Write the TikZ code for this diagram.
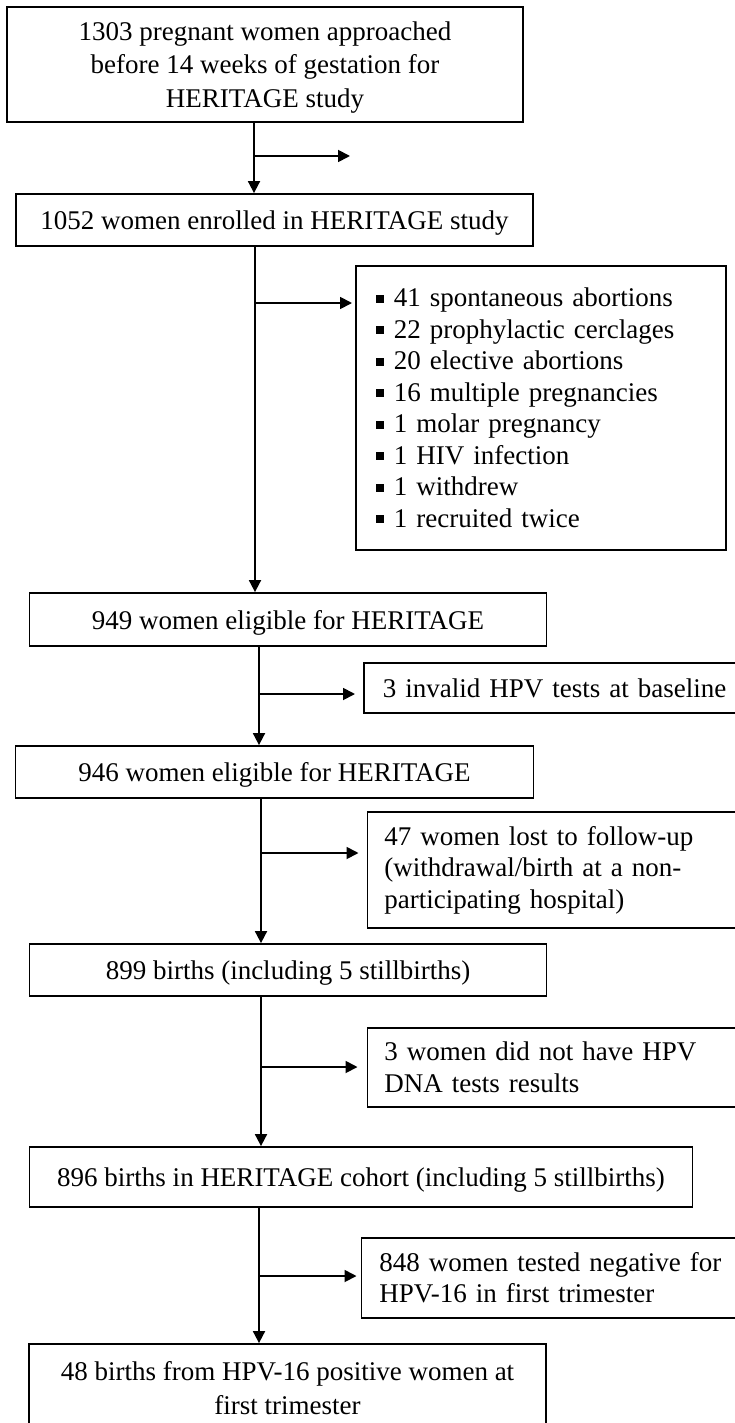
\documentclass[tikz,border=0pt]{standalone}
\usepackage{fontspec}
\setmainfont{Liberation Serif}
\usetikzlibrary{arrows.meta}
\newcommand\blt{\rule[4pt]{8pt}{8pt}\hspace{10pt}}
\tikzset{
  box/.style={draw, line width=1.8pt, inner sep=0pt, align=center, text depth=0pt, font=\fontsize{27}{33.5}\selectfont},
  sidebox/.style={draw, line width=1.8pt, inner xsep=17pt, inner ysep=0pt, align=left, font=\fontsize{27}{31.5}\selectfont},
  arr/.style={line width=1.8pt, -{Triangle[length=12pt,width=12pt]}},
  ln/.style={line width=1.8pt}
}
\begin{document}
\begin{tikzpicture}[x=1pt,y=-1pt]
\path[use as bounding box, clip] (0,0) rectangle (735,1423);
\fill[white] (0,0) rectangle (735,1423);
% main boxes
\node[box, minimum width=516pt, minimum height=115pt] (b1) at (265,64.5) {1303 pregnant women approached\\before 14 weeks of gestation for\\HERITAGE study};
\node[box, minimum width=517pt, minimum height=52pt] (b2) at (274.5,220) {1052 women enrolled in HERITAGE study};
\node[box, minimum width=517pt, minimum height=53pt] (b3) at (288,619.5) {949 women eligible for HERITAGE};
\node[box, minimum width=518pt, minimum height=52pt] (b4) at (274.5,772) {946 women eligible for HERITAGE};
\node[box, minimum width=517pt, minimum height=52pt] (b5) at (288,970) {899 births (including 5 stillbirths)};
\node[box, minimum width=663pt, minimum height=60pt] (b6) at (361,1177) {896 births in HERITAGE cohort (including 5 stillbirths)};
\node[box, minimum width=517pt, minimum height=88pt] (b7) at (287.5,1388) {48 births from HPV-16 positive women at\\first trimester};
% side boxes
\node[sidebox, anchor=north west, minimum width=370pt, minimum height=284pt, inner xsep=20pt, text width=330pt] (s1) at (355,265) {\blt 41 spontaneous abortions\\\blt 22 prophylactic cerclages\\\blt 20 elective abortions\\\blt 16 multiple pregnancies\\\blt 1 molar pregnancy\\\blt 1 HIV infection\\\blt 1 withdrew\\\blt 1 recruited twice};
\node[sidebox, anchor=north west, minimum width=400pt, minimum height=50pt, inner xsep=19pt, text width=362pt] (s2) at (363,662) {3 invalid HPV tests at baseline};
\node[sidebox, anchor=north west, minimum width=400pt, minimum height=116pt, text width=366pt] (s3) at (366.5,811) {47 women lost to follow-up\\(withdrawal/birth at a non-\\participating hospital)};
\node[sidebox, anchor=north west, minimum width=400pt, minimum height=79pt, text width=366pt] (s4) at (366.5,1027) {3 women did not have HPV\\DNA tests results};
\node[sidebox, anchor=north west, minimum width=400pt, minimum height=80pt, inner xsep=18pt, text width=364pt] (s5) at (360.5,1237) {848 women tested negative for\\HPV-16 in first trimester};
% junction coordinates
\coordinate (v1) at (254,0);
\coordinate (v2) at (255,0);
\coordinate (v3) at (259,0);
\coordinate (v4) at (261,0);
\coordinate (v5) at (261,0);
\coordinate (v6) at (259,0);
\coordinate (j1) at (254,156);
\coordinate (e1) at (350,156);
\coordinate (j2) at (255,303);
\coordinate (j3) at (259,694);
\coordinate (j4) at (261,853);
\coordinate (j5) at (261,1067);
\coordinate (j6) at (259,1276);
% connectors
\draw[arr] (b1.south -| v1) -- (b2.north -| v1);
\draw[arr] (j1) -- (e1);
\draw[arr] (b2.south -| v2) -- (b3.north -| v2);
\draw[arr] (j2) -- ([xshift=-3pt]s1.west |- j2);
\draw[arr] (b3.south -| v3) -- (b4.north -| v3);
\draw[arr] (j3) -- ([xshift=-8pt]s2.west |- j3);
\draw[arr] (b4.south -| v4) -- (b5.north -| v4);
\draw[arr] (j4) -- ([xshift=-8pt]s3.west |- j4);
\draw[arr] (b5.south -| v5) -- (b6.north -| v5);
\draw[arr] (j5) -- ([xshift=-9pt]s4.west |- j5);
\draw[arr] (b6.south -| v6) -- (b7.north -| v6);
\draw[arr] (j6) -- ([xshift=-4pt]s5.west |- j6);
\end{tikzpicture}
\end{document}
